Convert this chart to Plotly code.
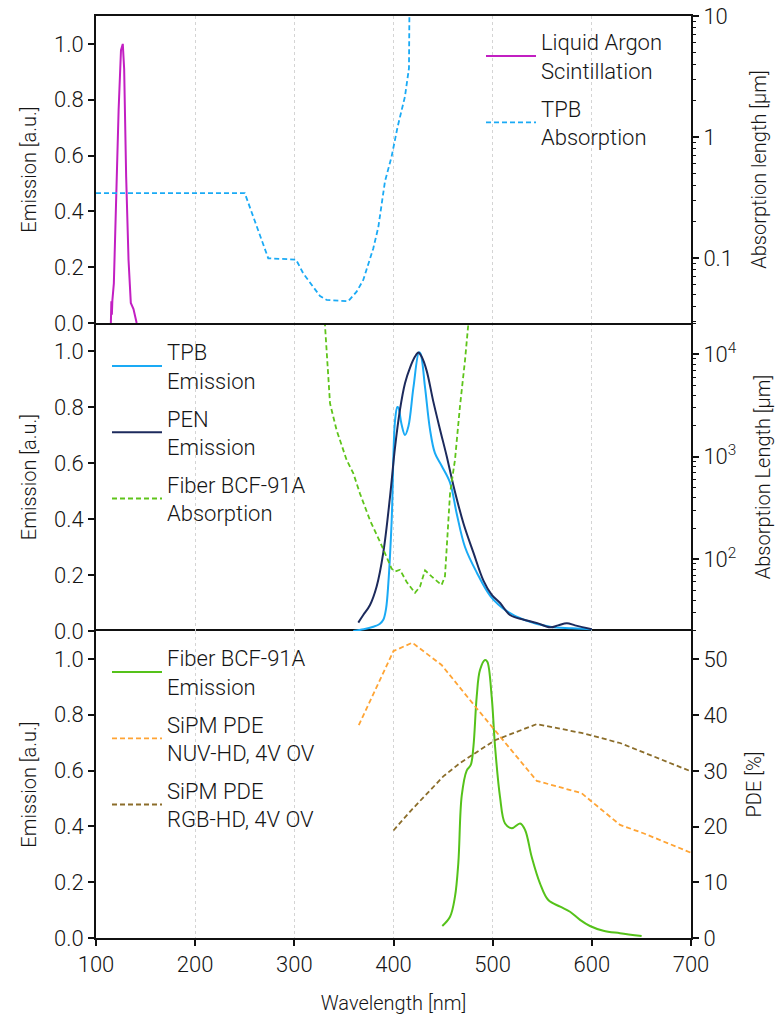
import plotly.graph_objects as go

# ---------------- data ----------------
lar_wl = [115, 115.5, 116, 116.5, 118, 120, 122.8, 125.2, 127, 128.4, 130.4, 132.8, 135.1, 137.8, 141]
lar_em = [0.0, 0.078, 0.03, 0.08, 0.142, 0.405, 0.763, 0.978, 1.0, 0.91, 0.525, 0.226, 0.072, 0.05, 0.0]

tpb_abs_wl = [100, 250, 273.7, 301.7, 309, 325.9, 332.6, 354.4, 362.8, 369.5, 379.6, 384.7, 391.4, 398.1,
              404, 411.5, 415.6, 416.4, 417]
tpb_abs_len = [0.344, 0.344, 0.0995, 0.097, 0.0746, 0.0485, 0.045, 0.044, 0.0527, 0.0658, 0.12, 0.18, 0.43, 0.69,
               1.2, 2.15, 3.7, 10, 100]

tpb_em_wl = [359.4, 370, 379.6, 386, 389.7, 392.5, 394.8, 398.1, 401.5, 403.9, 405, 408, 411.6, 415, 420.1, 425.7,
             427.3, 431.8, 436.8, 441.8, 448.5, 457, 463.7, 472.1, 483.8, 497.9, 514.7, 531.5, 558, 580, 599.8]
tpb_em = [0.0, 0.006, 0.015, 0.025, 0.04, 0.08, 0.17, 0.39, 0.75, 0.80, 0.797, 0.74, 0.70, 0.73, 0.87, 0.995,
          0.99, 0.87, 0.72, 0.635, 0.59, 0.53, 0.42, 0.30, 0.21, 0.124, 0.07, 0.04, 0.015, 0.01, 0.006]

pen_em_wl = [364.5, 369.5, 376.3, 383, 389.7, 396.5, 401.5, 406.5, 411.6, 416.6, 421.7, 425, 428.3, 433.4, 440.1,
             446.9, 453.6, 460.4, 470.5, 480.6, 490.7, 499.1, 507.5, 517.5, 531.5, 545, 558, 566, 574.8, 583, 591.7, 600]
pen_em = [0.03, 0.057, 0.093, 0.159, 0.28, 0.48, 0.655, 0.79, 0.885, 0.94, 0.98, 0.995, 0.98, 0.93, 0.82,
          0.72, 0.625, 0.52, 0.385, 0.28, 0.18, 0.129, 0.10, 0.057, 0.04, 0.028, 0.013, 0.02, 0.028, 0.02, 0.013, 0.006]

fib_abs_wl = [329, 330.9, 336, 342.6, 352.7, 359.4, 366.2, 376.3, 386.4, 392, 398.1, 401.5, 406.5, 413.3, 421.7,
              426.7, 431.8, 438.4, 448.5, 451.9, 453.6, 457, 462, 467, 472.1, 475.5, 480]
fib_abs_len = [30000, 19300, 3310, 1820, 933, 692, 437, 240, 148, 110, 81, 76, 79, 60, 47,
               54, 78, 68, 56, 68, 132, 437, 933, 3090, 8710, 20000, 60000]

fib_em_wl = [449.2, 457, 462, 465.4, 468.8, 473.8, 477.9, 480.6, 483.9, 487.2, 492.3, 494.6, 499, 502.4, 507.4,
             512.5, 519.3, 527.7, 532.7, 539.4, 547.7, 556.1, 568.1, 578, 588.1, 598.1, 611.6, 628.4, 650.2]
fib_em = [0.043, 0.076, 0.148, 0.27, 0.51, 0.60, 0.62, 0.686, 0.865, 0.96, 0.996, 0.99, 0.865, 0.686, 0.506,
          0.41, 0.393, 0.41, 0.387, 0.29, 0.196, 0.136, 0.112, 0.094, 0.065, 0.043, 0.026, 0.017, 0.007]

nuv_wl = [365, 400, 419, 448.5, 484, 544.5, 589.6, 628.4, 652, 700]
nuv_pde = [38.2, 51.5, 53.0, 49.0, 41.2, 28.2, 26.0, 20.3, 18.8, 15.3]

rgb_wl = [400, 418.3, 450.2, 467, 502.4, 544.5, 589.6, 628.4, 700]
rgb_pde = [19.3, 23.0, 29.0, 31.4, 35.5, 38.4, 36.8, 35.0, 29.9]

x_ticks = [100, 200, 300, 400, 500, 600, 700]
em_ticks = [0, 0.2, 0.4, 0.6, 0.8, 1.0]
pde_ticks = [0, 10, 20, 30, 40, 50]
top_log_ticks = [0.1, 1, 10]
top_log_labels = ["0.1", "1", "10"]
mid_log_ticks = [100, 1000, 10000]
mid_log_labels = ["10<sup>2</sup>", "10<sup>3</sup>", "10<sup>4</sup>"]
minor_mults = [2, 3, 4, 5, 6, 7, 8, 9]
top_minor = [m * d for d in [0.01, 0.1, 1] for m in minor_mults]
mid_minor = [m * d for d in [10, 100, 1000, 10000] for m in minor_mults]

# ---------------- style ----------------
FONT = "Roboto"
W, H = 776, 1028
L, R, T, B = 96, 85, 16, 90
ph = H - T - B
c_lar = "#c21fc2"
c_tpb = "#1aaaf5"
c_pen = "#1c2a5c"
c_fabs = "#5ec41a"
c_fem = "#55c21a"
c_nuv = "#ffa434"
c_rgb = "#8b6d2a"
DASH = "5px,3px"


def py(px):
    return (H - B - px) / ph


def pxx(px):
    return (px - L) / (W - L - R)


dom_bot = [0, py(631)]
dom_mid = [py(631), py(323)]
dom_top = [py(323), 1]

fig = go.Figure()

# top panel
fig.add_trace(go.Scatter(x=lar_wl, y=lar_em, mode="lines", name="Liquid Argon<br>Scintillation",
                         line=dict(color=c_lar, width=2), xaxis="x3", yaxis="y5",
                         legend="legend", legendgroup="a"))
fig.add_trace(go.Scatter(x=tpb_abs_wl, y=tpb_abs_len, mode="lines", name="TPB<br>Absorption",
                         line=dict(color=c_tpb, width=1.8, dash=DASH), xaxis="x3", yaxis="y6",
                         legend="legend", legendgroup="b"))
# middle panel
fig.add_trace(go.Scatter(x=tpb_em_wl, y=tpb_em, mode="lines", name="TPB<br>Emission",
                         line=dict(color=c_tpb, width=2, shape="spline"), xaxis="x2", yaxis="y3",
                         legend="legend2", legendgroup="c"))
fig.add_trace(go.Scatter(x=pen_em_wl, y=pen_em, mode="lines", name="PEN<br>Emission",
                         line=dict(color=c_pen, width=2, shape="spline"), xaxis="x2", yaxis="y3",
                         legend="legend2", legendgroup="d"))
fig.add_trace(go.Scatter(x=fib_abs_wl, y=fib_abs_len, mode="lines", name="Fiber BCF-91A<br>Absorption",
                         line=dict(color=c_fabs, width=1.8, dash=DASH), xaxis="x2", yaxis="y4",
                         legend="legend2", legendgroup="e"))
# bottom panel
fig.add_trace(go.Scatter(x=fib_em_wl, y=fib_em, mode="lines", name="Fiber BCF-91A<br>Emission",
                         line=dict(color=c_fem, width=2, shape="spline"), xaxis="x", yaxis="y",
                         legend="legend3", legendgroup="f"))
fig.add_trace(go.Scatter(x=nuv_wl, y=nuv_pde, mode="lines", name="SiPM PDE<br>NUV-HD, 4V OV",
                         line=dict(color=c_nuv, width=1.8, dash=DASH), xaxis="x", yaxis="y2",
                         legend="legend3", legendgroup="g"))
fig.add_trace(go.Scatter(x=rgb_wl, y=rgb_pde, mode="lines", name="SiPM PDE<br>RGB-HD, 4V OV",
                         line=dict(color=c_rgb, width=1.8, dash=DASH), xaxis="x", yaxis="y2",
                         legend="legend3", legendgroup="h"))

tickfont = dict(family=FONT, size=22, color="#151515", weight=300)
titlefont = dict(family=FONT, size=20, color="#151515", weight=300)
legfont = dict(family=FONT, size=22, color="#151515", weight=300)

xcommon = dict(range=[100, 700], linecolor="#111", linewidth=2, automargin=False,
               showgrid=True, gridcolor="#d4d4d4", griddash="3px,3px", gridwidth=1,
               tickvals=x_ticks, zeroline=False)

emcommon = dict(range=[0, 1.1], tickvals=em_ticks, tickformat=".1f", ticks="outside", ticklen=6,
                tickwidth=1.5, tickcolor="#111", showline=True, linecolor="#111", linewidth=2,
                showgrid=False, zeroline=False, tickfont=tickfont, automargin=False,
                title=dict(text="Emission [a.u.]", font=titlefont, standoff=12))

rcommon = dict(side="right", ticks="outside", ticklen=6, tickwidth=1.5, tickcolor="#111",
               showline=True, linecolor="#111", linewidth=2, showgrid=False, zeroline=False,
               tickfont=tickfont, automargin=False)

legcommon = dict(xanchor="left", yanchor="top", font=legfont, bgcolor="rgba(0,0,0,0)",
                 itemwidth=50, tracegroupgap=6)

fig.update_layout(
    width=W, height=H, margin=dict(l=L, r=R, t=T, b=B, autoexpand=False),
    paper_bgcolor="white", plot_bgcolor="white",
    xaxis=dict(xcommon, anchor="y", domain=[0, 1], showline=True, mirror=True,
               ticks="outside", ticklen=6, tickwidth=1.5, tickcolor="#111",
               tickfont=tickfont, title=dict(text="Wavelength [nm]", font=titlefont, standoff=20)),
    xaxis2=dict(xcommon, anchor="y3", matches="x", showticklabels=False, showline=False),
    xaxis3=dict(xcommon, anchor="y5", matches="x", showticklabels=False, showline=True, mirror=True),
    yaxis=dict(emcommon, domain=dom_bot, anchor="x"),
    yaxis2=dict(rcommon, domain=dom_bot, anchor="x", overlaying="y", range=[0, 55.1], tickvals=pde_ticks,
                title=dict(text="PDE [%]", font=titlefont, standoff=20)),
    yaxis3=dict(emcommon, domain=dom_mid, anchor="x2"),
    yaxis4=dict(rcommon, domain=dom_mid, anchor="x2", overlaying="y3", type="log", range=[1.30, 4.305],
                tickvals=mid_log_ticks, ticktext=mid_log_labels,
                minor=dict(tickvals=mid_minor, ticks="outside", ticklen=3, tickwidth=1, tickcolor="#111",
                           showgrid=False),
                title=dict(text="Absorption Length [µm]", font=titlefont, standoff=20)),
    yaxis5=dict(emcommon, domain=dom_top, anchor="x3"),
    yaxis6=dict(rcommon, domain=dom_top, anchor="x3", overlaying="y5", type="log", range=[-1.537, 1.0],
                tickvals=top_log_ticks, ticktext=top_log_labels,
                minor=dict(tickvals=top_minor, ticks="outside", ticklen=3, tickwidth=1, tickcolor="#111",
                           showgrid=False),
                title=dict(text="Absorption length [µm]", font=titlefont, standoff=20)),
    legend=dict(legcommon, x=pxx(481), y=py(21)),
    legend2=dict(legcommon, x=pxx(107), y=py(331)),
    legend3=dict(legcommon, x=pxx(107), y=py(637)),
    showlegend=True,
)

fig.write_html("out.html")
